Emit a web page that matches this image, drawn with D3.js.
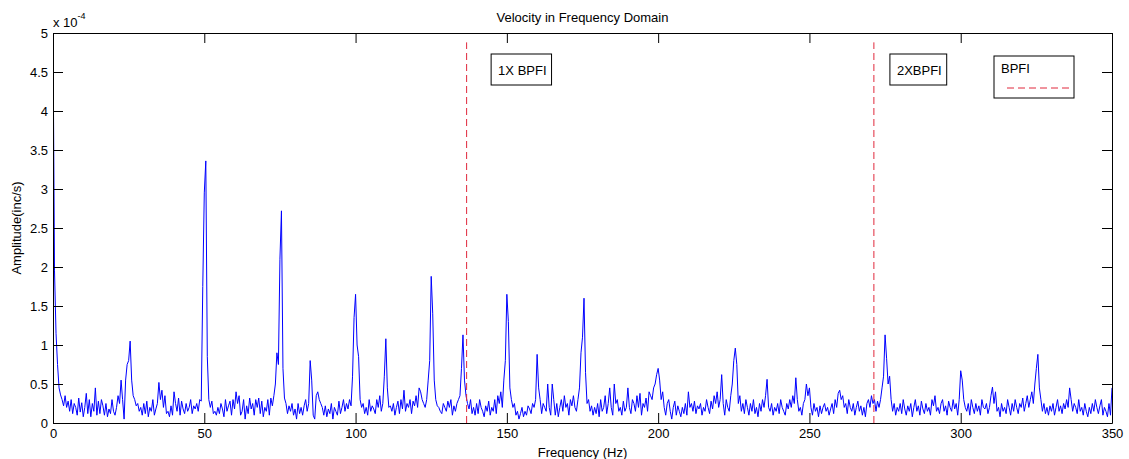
<!DOCTYPE html>
<html>
<head>
<meta charset="utf-8">
<script src="https://cdn.jsdelivr.net/npm/d3@7"></script>
<style>
  body { margin: 0; background: #fff; }
  text { font-family: "Liberation Sans", Arial, sans-serif; fill: #000; }
</style>
</head>
<body>
<div class="chart"></div>
<script>
// spectrum sampled every 0.5 Hz, amplitude in units of 1e-4 in/s
const freqStep = 0.5;
const amplitude = [
  5.0, 1.95, 1.15, 0.75, 0.45, 0.36, 0.3, 0.22, 0.35, 0.2, 0.28, 0.15, 0.3, 0.12, 0.25, 0.2, 0.1, 0.32, 0.14, 0.26,
  0.08, 0.2, 0.38, 0.12, 0.3, 0.08, 0.25, 0.15, 0.45, 0.1, 0.28, 0.12, 0.3, 0.22, 0.1, 0.25, 0.08, 0.18, 0.12, 0.3,
  0.15, 0.1, 0.2, 0.35, 0.25, 0.55, 0.3, 0.05, 0.55, 0.75, 0.8, 1.05, 0.55, 0.35, 0.3, 0.22, 0.25, 0.15, 0.2, 0.1,
  0.25, 0.12, 0.28, 0.08, 0.2, 0.15, 0.3, 0.1, 0.18, 0.25, 0.52, 0.3, 0.42, 0.2, 0.35, 0.12, 0.15, 0.08, 0.22, 0.1,
  0.4, 0.25, 0.15, 0.32, 0.1, 0.28, 0.18, 0.12, 0.25, 0.15, 0.2, 0.3, 0.12, 0.22, 0.18, 0.25, 0.15, 0.3, 0.28, 1.75,
  2.95, 3.36, 0.85, 0.3, 0.2, 0.28, 0.12, 0.15, 0.1, 0.2, 0.12, 0.25, 0.18, 0.08, 0.3, 0.15, 0.22, 0.28, 0.1, 0.3,
  0.18, 0.4, 0.25, 0.35, 0.1, 0.15, 0.3, 0.05, 0.22, 0.12, 0.32, 0.18, 0.25, 0.1, 0.3, 0.2, 0.32, 0.12, 0.28, 0.08,
  0.2, 0.15, 0.3, 0.1, 0.32, 0.22, 0.35, 0.5, 0.9, 0.75, 2.1, 2.72, 0.7, 0.32, 0.25, 0.12, 0.22, 0.15, 0.25, 0.1,
  0.18, 0.05, 0.25, 0.12, 0.2, 0.1, 0.22, 0.3, 0.15, 0.25, 0.8, 0.55, 0.1, 0.05, 0.35, 0.4, 0.3, 0.25, 0.2, 0.1,
  0.22, 0.08, 0.18, 0.12, 0.25, 0.05, 0.2, 0.15, 0.1, 0.28, 0.12, 0.2, 0.3, 0.15, 0.25, 0.18, 0.3, 0.22, 0.6, 1.35,
  1.65, 1.0, 0.85, 0.3, 0.2, 0.25, 0.12, 0.2, 0.1, 0.3, 0.15, 0.22, 0.18, 0.12, 0.3, 0.2, 0.35, 0.15, 0.25, 0.6,
  1.08, 0.45, 0.2, 0.22, 0.15, 0.25, 0.1, 0.2, 0.28, 0.12, 0.3, 0.18, 0.42, 0.15, 0.25, 0.2, 0.3, 0.12, 0.28, 0.22,
  0.35, 0.2, 0.45, 0.4, 0.3, 0.25, 0.2, 0.3, 0.55, 0.8, 1.88, 1.4, 0.55, 0.3, 0.22, 0.2, 0.15, 0.12, 0.25, 0.2,
  0.15, 0.28, 0.2, 0.3, 0.1, 0.22, 0.15, 0.25, 0.3, 0.35, 0.7, 1.13, 0.55, 0.35, 0.25, 0.18, 0.3, 0.12, 0.2, 0.1,
  0.25, 0.12, 0.3, 0.2, 0.15, 0.08, 0.22, 0.15, 0.28, 0.1, 0.2, 0.15, 0.3, 0.12, 0.35, 0.25, 0.4, 0.2, 0.55, 0.8,
  1.65, 1.3, 0.45, 0.3, 0.2, 0.25, 0.1, 0.15, 0.05, 0.12, 0.2, 0.08, 0.15, 0.1, 0.22, 0.18, 0.12, 0.25, 0.2, 0.3,
  0.88, 0.45, 0.3, 0.12, 0.25, 0.2, 0.15, 0.5, 0.2, 0.1, 0.5, 0.3, 0.1, 0.25, 0.08, 0.2, 0.3, 0.15, 0.35, 0.2,
  0.25, 0.1, 0.3, 0.22, 0.35, 0.2, 0.15, 0.3, 0.45, 0.9, 1.1, 1.6, 0.65, 0.25, 0.3, 0.15, 0.22, 0.1, 0.2, 0.12,
  0.25, 0.08, 0.3, 0.15, 0.2, 0.35, 0.12, 0.25, 0.45, 0.2, 0.1, 0.5, 0.25, 0.3, 0.15, 0.2, 0.1, 0.28, 0.15, 0.2,
  0.45, 0.2, 0.12, 0.3, 0.25, 0.15, 0.35, 0.2, 0.38, 0.1, 0.25, 0.2, 0.32, 0.15, 0.4, 0.35, 0.3, 0.45, 0.5, 0.62,
  0.7, 0.55, 0.3, 0.4, 0.2, 0.1, 0.25, 0.3, 0.15, 0.05, 0.2, 0.28, 0.1, 0.22, 0.15, 0.08, 0.2, 0.12, 0.25, 0.1,
  0.4, 0.2, 0.25, 0.15, 0.28, 0.12, 0.22, 0.18, 0.25, 0.1, 0.2, 0.15, 0.3, 0.2, 0.12, 0.28, 0.18, 0.35, 0.25, 0.4,
  0.2, 0.3, 0.62, 0.25, 0.1, 0.3, 0.2, 0.15, 0.35, 0.5, 0.8, 0.96, 0.75, 0.25, 0.35, 0.15, 0.25, 0.12, 0.3, 0.2,
  0.1, 0.25, 0.15, 0.3, 0.12, 0.2, 0.08, 0.25, 0.15, 0.3, 0.2, 0.35, 0.56, 0.2, 0.15, 0.25, 0.1, 0.2, 0.15, 0.25,
  0.12, 0.3, 0.2, 0.15, 0.1, 0.25, 0.18, 0.3, 0.2, 0.35, 0.25, 0.58, 0.3, 0.15, 0.2, 0.1, 0.25, 0.3, 0.5, 0.35,
  0.45, 0.2, 0.1, 0.25, 0.15, 0.2, 0.08, 0.22, 0.12, 0.2, 0.25, 0.15, 0.2, 0.1, 0.18, 0.25, 0.12, 0.3, 0.2, 0.38,
  0.42, 0.3, 0.35, 0.2, 0.25, 0.12, 0.3, 0.2, 0.15, 0.25, 0.1, 0.2, 0.28, 0.15, 0.22, 0.1, 0.2, 0.08, 0.25, 0.3,
  0.2, 0.35, 0.25, 0.3, 0.15, 0.28, 0.2, 0.3, 0.45, 0.6, 1.13, 0.83, 0.5, 0.6, 0.3, 0.15, 0.25, 0.1, 0.2, 0.15,
  0.25, 0.12, 0.3, 0.18, 0.1, 0.22, 0.15, 0.25, 0.08, 0.2, 0.3, 0.15, 0.22, 0.1, 0.28, 0.18, 0.12, 0.25, 0.15, 0.2,
  0.1, 0.3, 0.22, 0.35, 0.15, 0.2, 0.12, 0.25, 0.3, 0.15, 0.22, 0.1, 0.28, 0.2, 0.15, 0.3, 0.18, 0.25, 0.1, 0.3,
  0.67, 0.55, 0.3, 0.2, 0.15, 0.25, 0.1, 0.3, 0.2, 0.12, 0.25, 0.15, 0.22, 0.1, 0.3, 0.2, 0.18, 0.25, 0.12, 0.2,
  0.35, 0.46, 0.25, 0.4, 0.15, 0.2, 0.08, 0.25, 0.15, 0.2, 0.12, 0.3, 0.2, 0.1, 0.25, 0.15, 0.3, 0.2, 0.12, 0.25,
  0.2, 0.32, 0.15, 0.25, 0.35, 0.2, 0.3, 0.4, 0.25, 0.5, 0.7, 0.88, 0.45, 0.3, 0.15, 0.25, 0.12, 0.2, 0.1, 0.22,
  0.15, 0.25, 0.1, 0.2, 0.3, 0.15, 0.22, 0.12, 0.25, 0.18, 0.3, 0.2, 0.45, 0.3, 0.15, 0.25, 0.2, 0.12, 0.3, 0.15,
  0.2, 0.1, 0.25, 0.15, 0.08, 0.2, 0.12, 0.25, 0.15, 0.3, 0.2, 0.12, 0.22, 0.3, 0.1, 0.2, 0.15, 0.08, 0.25, 0.1,
  0.45
];

const xTicks = [0, 50, 100, 150, 200, 250, 300, 350];
const yTicks = [0, 0.5, 1, 1.5, 2, 2.5, 3, 3.5, 4, 4.5, 5];
const bpfiLines = [136.7, 271.3];
const bpfiTop = 4.88;
const noteLabels = ["1X BPFI", "2XBPFI"];
const noteFreqs = [144.8, 276.6];

const svgWidth = 1129, svgHeight = 459;
const margin = {top: 33, right: 17, bottom: 36, left: 53};
const width = svgWidth - margin.left - margin.right;
const height = svgHeight - margin.top - margin.bottom;

const svg = d3.select(".chart").append("svg")
  .attr("width", svgWidth)
  .attr("height", svgHeight);

const g = svg.append("g")
  .attr("transform", `translate(${margin.left},${margin.top})`);

const x = d3.scaleLinear().domain([0, 350]).range([0, width]);
const y = d3.scaleLinear().domain([0, 5]).range([height, 0]);

g.append("clipPath").attr("id", "plotclip")
  .append("rect").attr("width", width).attr("height", height);

// spectrum
const line = d3.line()
  .x((d, i) => x(i * freqStep))
  .y(d => y(d));

g.append("path")
  .datum(amplitude)
  .attr("clip-path", "url(#plotclip)")
  .attr("fill", "none")
  .attr("stroke", "#0000ff")
  .attr("stroke-width", 1)
  .attr("d", line);

// BPFI markers
g.selectAll(".bpfi")
  .data(bpfiLines)
  .enter().append("line")
  .attr("class", "bpfi")
  .attr("x1", d => x(d)).attr("x2", d => x(d))
  .attr("y1", y(0)).attr("y2", y(bpfiTop))
  .attr("stroke", "#e0283c")
  .attr("stroke-width", 1)
  .attr("stroke-dasharray", "7,4");

// axes, inward ticks on all four sides
const tick = 10;
g.append("g")
  .attr("transform", `translate(0,${height})`)
  .call(d3.axisBottom(x).tickValues(xTicks).tickSizeInner(-tick).tickSizeOuter(0).tickPadding(6))
  .call(a => a.selectAll("text").attr("font-size", 13).attr("font-family", null));
g.append("g")
  .call(d3.axisTop(x).tickValues(xTicks).tickSizeInner(-tick).tickSizeOuter(0).tickFormat(""));
g.append("g")
  .call(d3.axisLeft(y).tickValues(yTicks).tickSizeInner(-tick).tickSizeOuter(0).tickPadding(5)
    .tickFormat(d3.format("~g")))
  .call(a => a.selectAll("text").attr("font-size", 13).attr("font-family", null));
g.append("g")
  .attr("transform", `translate(${width},0)`)
  .call(d3.axisRight(y).tickValues(yTicks).tickSizeInner(-tick).tickSizeOuter(0).tickFormat(""));
g.selectAll(".domain").attr("stroke", "#000");
g.selectAll(".tick line").attr("stroke", "#000");

// exponent
const expo = g.append("text").attr("x", 0).attr("y", -6.5).attr("font-size", 13);
expo.append("tspan").text("x 10");
expo.append("tspan").attr("font-size", 9).attr("dy", -8).text("-4");

// annotation boxes
const notes = g.selectAll(".note")
  .data(noteLabels)
  .enter().append("g")
  .attr("class", "note")
  .attr("transform", (d, i) => `translate(${x(noteFreqs[i])},21)`);
notes.append("text")
  .attr("x", 7).attr("y", 21).attr("font-size", 13)
  .text(d => d);
notes.each(function() {
  const bb = d3.select(this).select("text").node().getBBox();
  d3.select(this).insert("rect", "text")
    .attr("width", bb.width + 12).attr("height", 31)
    .attr("fill", "#fff").attr("stroke", "#000");
});

// legend
const lg = g.append("g").attr("transform", `translate(${width - 118},23)`);
lg.append("rect").attr("width", 80).attr("height", 42)
  .attr("fill", "#fff").attr("stroke", "#000");
lg.append("text").attr("x", 7).attr("y", 17).attr("font-size", 13).text("BPFI");
lg.append("line")
  .attr("x1", 13).attr("x2", 75).attr("y1", 32).attr("y2", 32)
  .attr("stroke", "#e0283c").attr("stroke-dasharray", "7,4");

// title and labels
svg.append("text")
  .attr("x", margin.left + width / 2).attr("y", 22)
  .attr("text-anchor", "middle").attr("font-size", 13)
  .text("Velocity in Frequency Domain");
svg.append("text")
  .attr("x", margin.left + width / 2).attr("y", 457)
  .attr("text-anchor", "middle").attr("font-size", 13)
  .text("Frequency (Hz)");
svg.append("text")
  .attr("transform", `translate(21,${margin.top + height / 2}) rotate(-90)`)
  .attr("text-anchor", "middle").attr("font-size", 13)
  .text("Amplitude(inc/s)");
</script>
</body>
</html>
